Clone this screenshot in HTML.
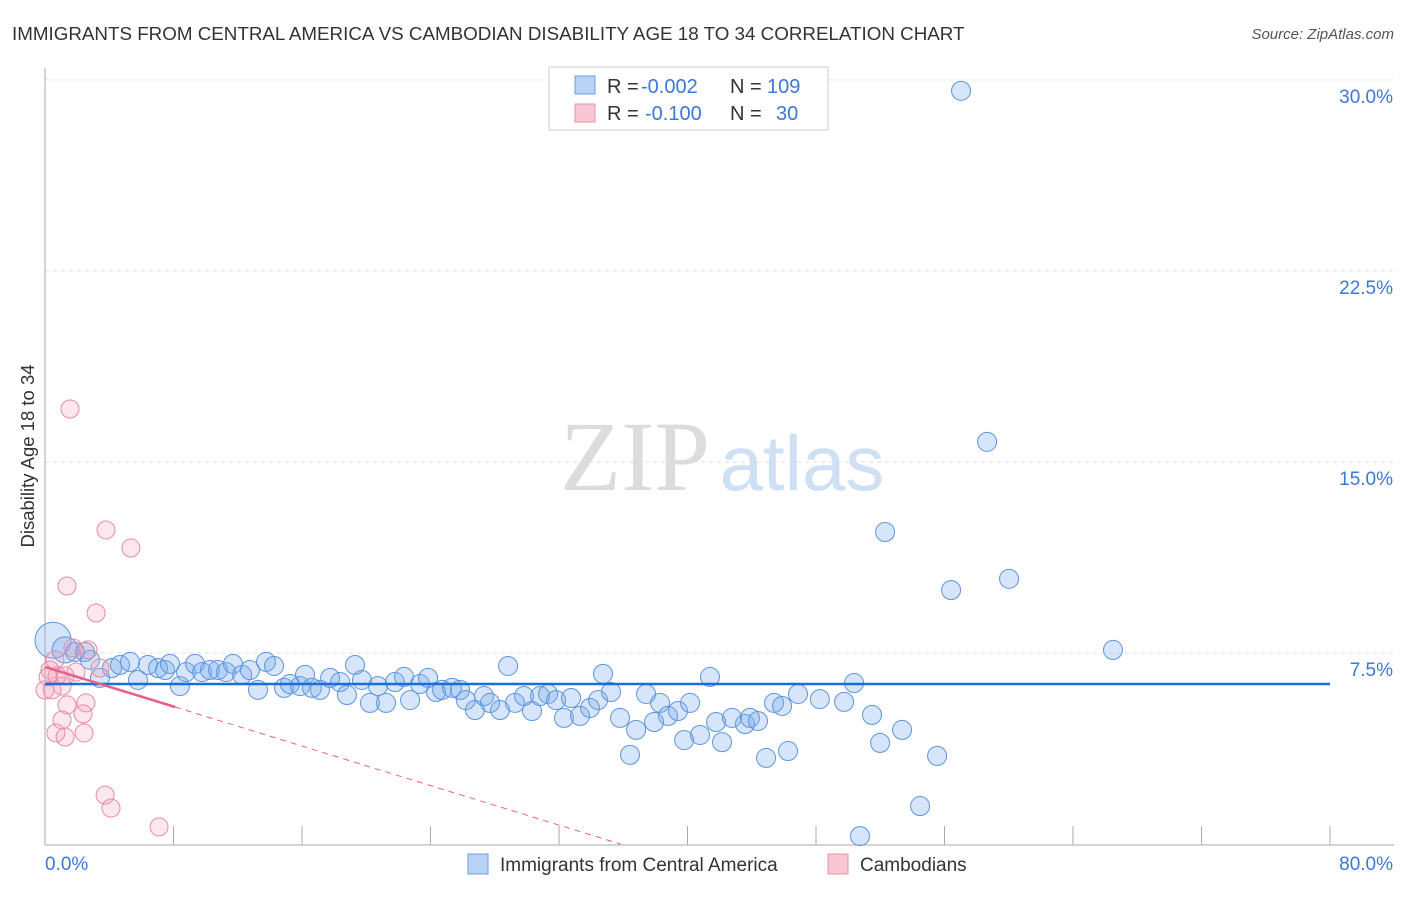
<!DOCTYPE html>
<html><head><meta charset="utf-8"><style>
body{margin:0;background:#fff;font-family:"Liberation Sans",sans-serif;}
svg text{font-family:"Liberation Sans",sans-serif;}
</style></head><body>
<svg id="chart" width="1406" height="892">
<text x="12" y="40" font-size="18.8" fill="#333">IMMIGRANTS FROM CENTRAL AMERICA VS CAMBODIAN DISABILITY AGE 18 TO 34 CORRELATION CHART</text>
<text x="1394" y="39" font-size="15" fill="#555" font-style="italic" text-anchor="end">Source: ZipAtlas.com</text>
<text x="34" y="456" font-size="18.5" fill="#333" text-anchor="middle" transform="rotate(-90 34 456)">Disability Age 18 to 34</text>
<g><text x="635" y="490" font-size="100" fill="#dcdcdc" style="font-family:'Liberation Serif',serif" text-anchor="middle">ZIP</text><text x="802" y="490" font-size="78" fill="#cfe0f5" text-anchor="middle">atlas</text></g>
<g id="grid"></g><g id="axes"></g><g id="marks"></g>
<g>
<rect x="549" y="67" width="279" height="63" fill="#fff" stroke="#ccc"/>
<rect x="575" y="76" width="20" height="18" fill="#b8d3f5" stroke="#6a9de0"/>
<rect x="575" y="104" width="20" height="18" fill="#f9c6d4" stroke="#e892aa"/>
<g font-size="20" fill="#333">
<text x="607" y="93">R =</text><text x="641" y="93" fill="#3b78d8">-0.002</text><text x="730" y="93">N =</text><text x="767" y="93" fill="#3b78d8">109</text></g>
<g font-size="20" fill="#333">
<text x="607" y="120">R =</text><text x="645" y="120" fill="#3b78d8">-0.100</text><text x="730" y="120">N =</text><text x="776" y="120" fill="#3b78d8">30</text></g>
</g>
<g>
<rect x="468" y="854" width="20" height="20" fill="#b8d3f5" stroke="#6a9de0"/>
<text x="500" y="871" font-size="19" fill="#333">Immigrants from Central America</text>
<rect x="828" y="854" width="20" height="20" fill="#f9c6d4" stroke="#e892aa"/>
<text x="860" y="871" font-size="19" fill="#333">Cambodians</text>
</g>
</svg>
<script>
const yTicks=[7.5,15,22.5,30];
const yTickLabels=["7.5%","15.0%","22.5%","30.0%"];
const xTicks=[0,8,16,24,32,40,48,56,64,72,80];
const blueX=[0.5,1.25,1.87,2.49,2.8,3.42,4.17,4.67,5.29,5.79,6.41,7.04,7.47,7.78,8.4,8.78,9.34,9.78,10.27,10.77,11.27,11.7,12.27,12.76,13.26,13.76,14.26,14.88,15.25,15.88,16.19,16.62,17.12,17.75,18.37,18.8,19.3,19.73,20.23,20.73,21.23,21.79,22.35,22.73,23.35,23.85,24.34,24.72,25.34,25.84,26.2,26.77,27.33,27.71,28.33,28.83,29.26,29.82,30.32,30.82,31.32,31.82,32.31,32.75,33.31,33.93,34.43,34.74,35.24,35.8,36.42,36.8,37.42,37.92,38.29,38.79,39.41,39.79,40.16,40.78,41.4,41.78,42.15,42.77,43.58,43.89,44.39,44.89,45.39,45.89,46.26,46.88,48.24,49.75,50.37,50.74,51.49,51.99,52.3,53.36,54.48,55.54,56.41,57.03,58.65,60.02,66.49];
const blueY=[8.0,7.62,7.54,7.54,7.23,6.52,6.91,7.03,7.15,6.44,7.03,6.91,6.83,7.07,6.2,6.75,7.07,6.75,6.83,6.83,6.75,7.07,6.64,6.83,6.05,7.15,6.99,6.13,6.28,6.2,6.64,6.13,6.05,6.52,6.36,5.85,7.03,6.44,5.54,6.2,5.54,6.36,6.56,5.65,6.28,6.52,5.97,6.05,6.13,6.05,5.65,5.26,5.81,5.54,5.26,6.99,5.54,5.81,5.22,5.81,5.89,5.65,4.95,5.73,5.03,5.34,5.65,6.68,5.97,4.95,3.5,4.48,5.89,4.79,5.54,5.03,5.22,4.08,5.54,4.28,6.56,4.79,4.0,4.95,4.71,4.95,4.83,3.38,5.54,5.42,3.65,5.89,5.69,5.58,6.32,0.31,5.07,3.97,12.25,4.48,1.49,3.46,9.97,29.57,15.79,10.41,7.62];
const pinkX=[1.56,3.8,5.35,1.37,3.18,2.68,1.74,0.62,0.31,0.75,1.06,0.44,1.25,3.42,1.93,2.55,1.37,1.06,2.37,0.68,1.25,2.43,3.74,4.11,7.1,0.19,0.0];
const pinkY=[17.08,12.33,11.62,10.13,9.07,7.62,7.7,7.23,6.83,6.6,6.2,6.05,6.6,6.91,6.75,5.54,5.46,4.87,5.11,4.36,4.2,4.36,1.92,1.41,0.67,6.56,6.05];
const blueTrend=[6.28,0.0];
const pinkTrend=[6.95,-0.194];
const NS="http://www.w3.org/2000/svg";
const X=v=>45+v/80*1285, Y=v=>844-v*25.47;
function mk(tag,attrs,parent){const e=document.createElementNS(NS,tag);for(const k in attrs)e.setAttribute(k,attrs[k]);document.getElementById(parent).appendChild(e);return e;}
yTicks.forEach((t,i)=>{
 const g=mk('line',{x1:45,x2:1394,y1:Y(t),y2:Y(t),stroke:'#ddd','stroke-dasharray':'4,4'},'grid');
 
 
 const l=mk('text',{x:1393,y:Y(t)+23,'font-size':19,fill:'#3b78d8','text-anchor':'end'},'grid');l.textContent=yTickLabels[i];
 
 
});
const ax=mk('line',{x1:45,x2:45,y1:68,y2:845,stroke:'#aaa'},'axes');


const bx=mk('line',{x1:45,x2:1394,y1:845,y2:845,stroke:'#aaa'},'axes');


xTicks.forEach(t=>{const e=mk('line',{x1:X(t),x2:X(t),y1:826,y2:845,stroke:'#aaa'},'axes');
 
 });
const x0=mk('text',{x:45,y:870,'font-size':19,fill:'#3b78d8'},'axes');x0.textContent=xTicks[0].toFixed(1)+'%';


const x1=mk('text',{x:1393,y:870,'font-size':19,fill:'#3b78d8','text-anchor':'end'},'axes');x1.textContent=xTicks[xTicks.length-1].toFixed(1)+'%';


blueX.forEach((v,i)=>{const c=mk('circle',{cx:X(v),cy:Y(blueY[i]),r:i<2?(i==0?18:13):9.5,fill:'rgba(120,170,235,0.3)',stroke:'#5e95de','stroke-width':1},'marks');
 
 });
pinkX.forEach((v,i)=>{const c=mk('circle',{cx:X(v),cy:Y(pinkY[i]),r:9,fill:'rgba(245,160,185,0.25)',stroke:'#e88aa6','stroke-width':1},'marks');
 
 });
const bt=mk('line',{x1:X(0),x2:X(80),y1:Y(blueTrend[0]),y2:Y(blueTrend[0]+blueTrend[1]*80),stroke:'#1a6fd6','stroke-width':2.5},'marks');


const pe=8.1, pz=-pinkTrend[0]/pinkTrend[1];
const pt=mk('line',{x1:X(0),x2:X(pe),y1:Y(pinkTrend[0]),y2:Y(pinkTrend[0]+pinkTrend[1]*pe),stroke:'#e8608a','stroke-width':2.5},'marks');


const pd=mk('line',{x1:X(pe),x2:X(pz),y1:Y(pinkTrend[0]+pinkTrend[1]*pe),y2:Y(0),stroke:'#e8608a','stroke-width':1,'stroke-dasharray':'6,5'},'marks');


</script>
</body></html>
